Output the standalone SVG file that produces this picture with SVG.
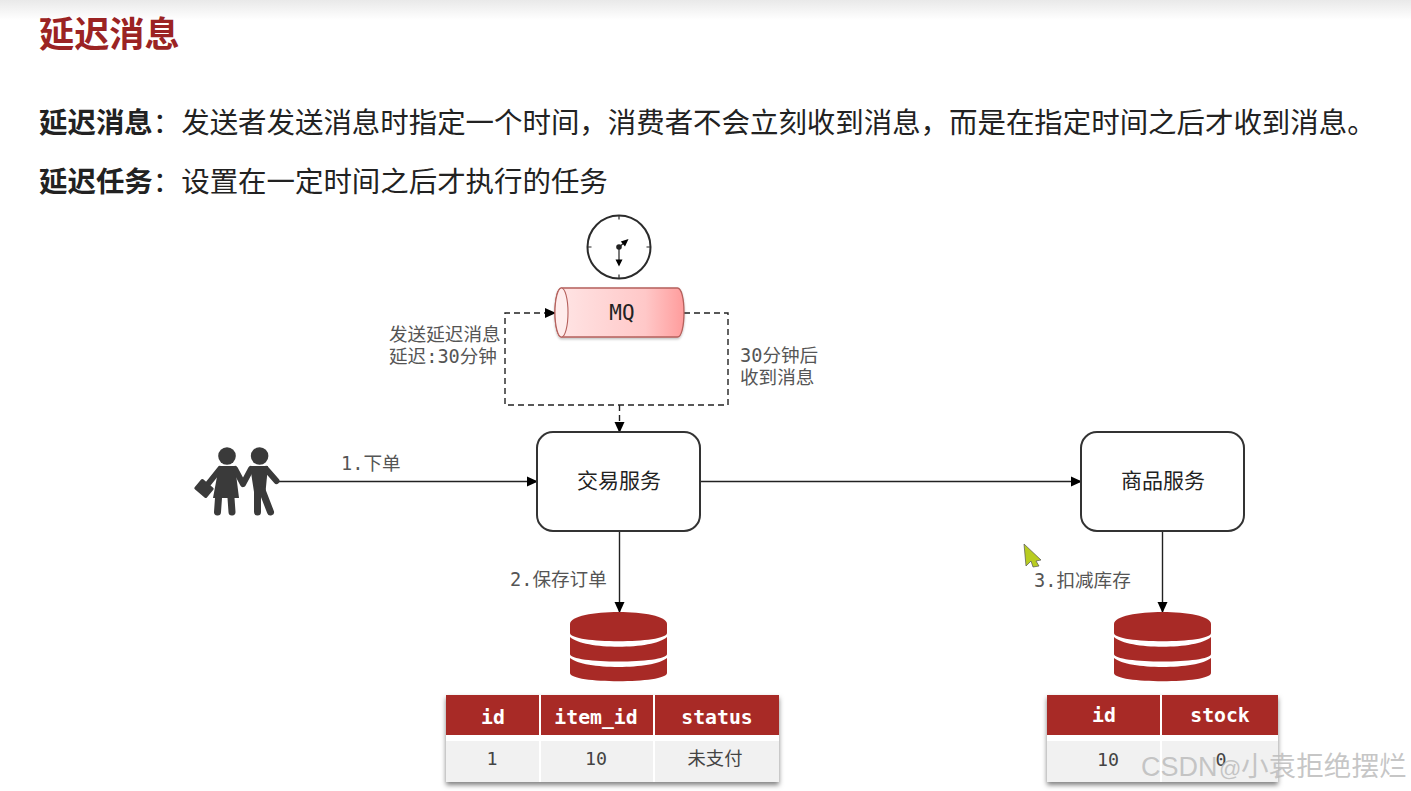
<svg xmlns="http://www.w3.org/2000/svg" width="1411" height="791" viewBox="0 0 1411 791">
<style>
.cjk{font-family:"Noto Sans CJK SC","Noto Sans",sans-serif}
.mono{font-family:"DejaVu Sans Mono","Noto Sans CJK SC",monospace}
.lbl{font-size:18.6px;fill:#555}
.node{fill:#fff;stroke:#333;stroke-width:2}
.ntxt{font-size:21px;fill:#222;text-anchor:middle}
.conn{fill:none;stroke:#222;stroke-width:1.4}
.dash{stroke-dasharray:6 4}
.hd{fill:#a82a26}
.row{fill:#f1f1f1}
.th{font-size:19.8px;font-weight:700;fill:#fff;text-anchor:middle}
.td{font-size:18.3px;fill:#444;text-anchor:middle}
.ppl{fill:#3a3a3a}
.pst{fill:none;stroke:#3a3a3a;stroke-linecap:round;stroke-linejoin:round}
</style>
<defs>
<linearGradient id="top" x1="0" y1="0" x2="0" y2="1"><stop offset="0" stop-color="#e9e9e9"/><stop offset="1" stop-color="#fff"/></linearGradient>
<linearGradient id="cyl" x1="0" y1="0" x2="1" y2="0"><stop offset="0" stop-color="#ffe6e6"/><stop offset="0.7" stop-color="#ffc8c8"/><stop offset="1" stop-color="#ff9c9c"/></linearGradient>
<filter id="sh" x="-5%" y="-10%" width="110%" height="125%"><feDropShadow dx="0" dy="3" stdDeviation="2.5" flood-color="#000" flood-opacity="0.5"/></filter>
<filter id="sh2" x="-5%" y="-10%" width="110%" height="125%"><feDropShadow dx="0" dy="1.5" stdDeviation="1" flood-color="#000" flood-opacity="0.25"/></filter>
<marker id="arr" markerWidth="11" markerHeight="11" refX="10" refY="5.5" orient="auto" markerUnits="userSpaceOnUse"><path d="M0 0.5L11 5.5L0 10.5Z" fill="#000"/></marker>
<g id="db">
<path class="hd" d="M0 12C0 -4 97 -4 97 12V21C97 32 0 32 0 21Z"/>
<path class="hd" d="M0 25C14 38 83 38 97 25V42C97 52 0 52 0 42Z"/>
<path class="hd" d="M0 46C14 58 83 58 97 46V61C97 72 0 72 0 61Z"/>
</g>
</defs>
<rect width="1411" height="791" fill="#fff"/>
<rect width="1411" height="20" fill="url(#top)"/>
<text class="cjk" x="39" y="47" font-size="35.2" font-weight="700" fill="#9b2323">延迟消息</text>
<text class="cjk" x="39" y="133" font-size="28.45" fill="#222"><tspan font-weight="700">延迟消息</tspan>：发送者发送消息时指定一个时间，消费者不会立刻收到消息，而是在指定时间之后才收到消息。</text>
<text class="cjk" x="39" y="192" font-size="28.45" fill="#222"><tspan font-weight="700">延迟任务</tspan>：设置在一定时间之后才执行的任务</text>

<g id="connectors">
<path class="conn" d="M278 481.5H537" marker-end="url(#arr)"/>
<path class="conn" d="M700 481.5H1081" marker-end="url(#arr)"/>
<path class="conn" d="M619.5 531V612" marker-end="url(#arr)"/>
<path class="conn" d="M1162.5 531V612" marker-end="url(#arr)"/>
<path class="conn dash" d="M684 313H728V405H505V313H555" marker-end="url(#arr)"/>
<path class="conn dash" d="M619.5 405V432" marker-end="url(#arr)"/>
<text class="mono lbl" x="389" y="341">发送延迟消息</text>
<text class="mono lbl" x="389" y="363">延迟:30分钟</text>
<text class="mono lbl" x="740" y="362">30分钟后</text>
<text class="mono lbl" x="740" y="384">收到消息</text>
<text class="mono lbl" x="341" y="470">1.下单</text>
<text class="mono lbl" x="510" y="586">2.保存订单</text>
<text class="mono lbl" x="1034" y="587">3.扣减库存</text>
</g>

<g id="clock">
<circle cx="619" cy="247" r="31.5" fill="#fff" stroke="#2b2b2b" stroke-width="2"/>
<path d="M619 215.5v4M619 278.5v-4M587.5 247h4M650.5 247h-4" stroke="#2b2b2b" stroke-width="1.2"/>
<circle cx="619" cy="247" r="2.8" fill="#222"/>
<path d="M619 247L624 243M619 247V261" stroke="#222" stroke-width="1.2"/>
<path d="M628.5 239L620.8 241.5L625 246.5Z M619 266.5L615.5 259.5H622.5Z" fill="#000"/>
</g>

<g id="mq">
<path d="M561.5 288H677.5C681.5 288 684 299 684 312.5S681.5 337 677.5 337H561.5C557.5 337 555 326 555 312.5S557.5 288 561.5 288Z" fill="url(#cyl)" stroke="#b5605c" stroke-width="1.3" filter="url(#sh2)"/>
<ellipse cx="561.5" cy="312.5" rx="6.5" ry="24.5" fill="#ffecec" stroke="#b5605c" stroke-width="1.1"/>
<text class="mono" x="622" y="320" font-size="21" fill="#222" text-anchor="middle">MQ</text>
</g>

<g id="user">
<circle class="ppl" cx="227" cy="456" r="8.8"/>
<circle class="ppl" cx="259.6" cy="456" r="8.8"/>
<path class="ppl" d="M219 466H235L239 498H213Z"/>
<path class="pst" stroke-width="7" d="M218.5 498L217.5 512M231 498L232 512"/>
<path class="pst" stroke-width="6" d="M220 469L208 484M235 469L243 484L251 469"/>
<path class="ppl" d="M250 466H268L265.5 492H254Z"/>
<path class="pst" stroke-width="7" d="M257.5 490L257.5 512M262 490L270.5 512"/>
<path class="pst" stroke-width="6" d="M266 469L276.5 481"/>
<rect class="ppl" x="196" y="482" width="16" height="13" rx="1.5" transform="rotate(40 204 488.5)"/>
</g>

<g id="trade">
<rect class="node" x="537" y="432" width="163" height="99" rx="16"/>
<text class="cjk ntxt" x="619" y="488">交易服务</text>
</g>
<g id="goods">
<rect class="node" x="1081" y="432" width="163" height="99" rx="16"/>
<text class="cjk ntxt" x="1163" y="488">商品服务</text>
</g>

<use id="db1" href="#db" x="570" y="612"/>
<use id="db2" href="#db" x="1114" y="612"/>

<g id="table1">
<rect x="446" y="695" width="333" height="87" fill="#fff" filter="url(#sh)"/>
<rect class="hd" x="446" y="695" width="93" height="40"/>
<rect class="hd" x="541" y="695" width="112" height="40"/>
<rect class="hd" x="655" y="695" width="124" height="40"/>
<rect class="row" x="446" y="741" width="93" height="41"/>
<rect class="row" x="541" y="741" width="112" height="41"/>
<rect class="row" x="655" y="741" width="124" height="41"/>
<text class="mono th" x="493" y="724">id</text>
<text class="mono th" x="596" y="724">item_id</text>
<text class="mono th" x="717" y="724">status</text>
<text class="mono td" x="492" y="765">1</text>
<text class="mono td" x="596" y="765">10</text>
<text class="mono td" x="715" y="765">未支付</text>
</g>
<g id="table2">
<rect x="1047" y="695" width="231" height="87" fill="#fff" filter="url(#sh)"/>
<rect class="hd" x="1047" y="695" width="113" height="40"/>
<rect class="hd" x="1162" y="695" width="116" height="40"/>
<rect class="row" x="1047" y="741" width="113" height="41"/>
<rect class="row" x="1162" y="741" width="116" height="41"/>
<text class="mono th" x="1104" y="722">id</text>
<text class="mono th" x="1220" y="722">stock</text>
<text class="mono td" x="1108" y="766">10</text>
<text class="mono td" x="1221" y="766">0</text>
</g>

<path id="cursor" d="M1024 544L1041 560L1036 561L1039 566L1033 567L1031 561L1026 566Z" fill="#b8cc20" stroke="#555" stroke-width="0.7"/>
<text id="watermark" x="1141" y="776" font-family="'Liberation Sans','Noto Sans CJK SC',sans-serif" font-size="27" fill="#bcbcbc" fill-opacity="0.85">CSDN <tspan x="1219" font-size="22">@</tspan><tspan x="1241" font-size="27.6">小袁拒绝摆烂</tspan></text>
</svg>
